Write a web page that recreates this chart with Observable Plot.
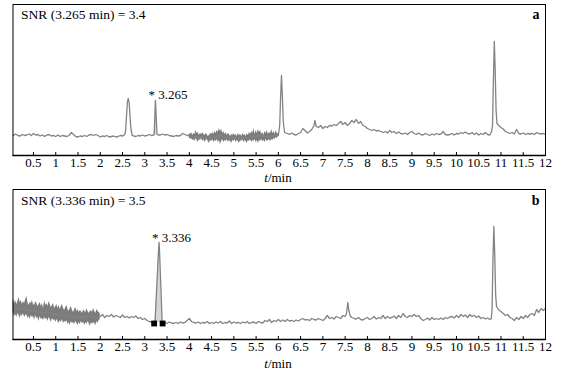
<!DOCTYPE html>
<html><head><meta charset="utf-8">
<script src="https://cdn.jsdelivr.net/npm/d3@7"></script>
<script src="https://cdn.jsdelivr.net/npm/@observablehq/plot@0.6"></script>
<style>body{margin:0;background:#fff} #chart svg{display:block}</style>
</head><body><div id="chart"></div>
<script>
const xTicks = [0.5,1,1.5,2,2.5,3,3.5,4,4.5,5,5.5,6,6.5,7,7.5,8,8.5,9,9.5,10,10.5,11,11.5,12];
const axisTitleItalic = "t";
const axisTitleRest = "/min";

// Panel a: [time (min), signal]
const traceA = [[0,21],[0.05,20],[0.1,21.5],[0.15,20],[0.2,19.5],[0.25,21],[0.3,20],[0.35,20.5],[0.4,21.5],[0.45,20],[0.5,22],[0.55,20.5],[0.6,21],[0.65,19.5],[0.7,20.5],[0.75,19],[0.8,20.5],[0.85,21],[0.9,19.5],[0.95,20],[1,19],[1.05,20.5],[1.1,19],[1.15,20],[1.2,19.5],[1.25,19],[1.3,20],[1.35,23],[1.4,21],[1.45,19],[1.5,18.5],[1.55,19.5],[1.6,19],[1.65,20],[1.7,19],[1.75,20.5],[1.8,21],[1.85,20],[1.9,21],[1.95,20],[2,18.5],[2.05,19.5],[2.1,19],[2.15,20],[2.2,18.5],[2.25,19],[2.3,19.5],[2.35,18.5],[2.4,19],[2.45,20],[2.5,19.5],[2.55,21],
[2.57,25],[2.59,40],[2.61,54],[2.63,57],[2.65,52],[2.67,38],[2.69,26],[2.72,20],[2.75,19.5],[2.8,19],[2.85,20],[2.9,19.5],[2.95,20.5],[3,19.5],[3.05,20],[3.1,21],[3.15,20],[3.2,20.5],
[3.21,21],[3.225,38],[3.24,55],[3.255,40],[3.275,21],[3.3,20.5],[3.35,20.5],[3.4,21.5],[3.45,20.5],[3.5,21],[3.55,20],[3.6,19.5],[3.65,19],[3.7,20],[3.75,19.5],[3.8,20],[3.85,22],[3.9,21],[3.95,20],
[4,20],[4.1,18],[4.2,19],[4.3,18.5],[4.4,17],[4.5,18],[4.6,19],[4.7,20],[4.8,18.5],[4.9,18],[5,18],[5.1,17.5],[5.2,18],[5.3,17.5],[5.4,19],[5.5,19.5],[5.6,20],[5.7,19],[5.8,18.5],[5.9,19.5],[6,20],
[6.03,30],[6.05,58],[6.07,80],[6.09,60],[6.11,34],[6.14,23],[6.2,22],[6.25,21],[6.3,22.5],[6.35,21],[6.4,20.5],[6.45,22],[6.5,23],[6.55,27],[6.6,25],[6.65,22.5],[6.7,24],[6.75,26],[6.8,30],[6.82,35],[6.85,29],[6.9,28],[6.95,30],[7,27],[7.05,29],[7.1,28],[7.15,30],[7.2,29.5],[7.25,31],[7.3,30],[7.35,32],[7.4,34],[7.45,31],[7.5,33],[7.55,30],[7.6,32],[7.65,35],[7.7,33],[7.75,36],[7.8,32],[7.85,34],[7.9,30],[7.95,29],[8,27],[8.05,26],[8.1,25],[8.15,26],[8.2,24.5],[8.25,25],[8.3,24],[8.35,23],[8.4,24],[8.45,22.5],[8.5,25],[8.55,23],[8.6,24],[8.65,22],[8.7,23.5],[8.75,22],[8.8,21.5],[8.85,22.5],[8.9,21],[8.95,23],[9,24],[9.05,22],[9.1,21],[9.15,22.5],[9.2,21],[9.25,20.5],[9.3,22],[9.35,21],[9.4,20],[9.45,21.5],[9.5,20.5],[9.55,22],[9.6,21],[9.65,21.5],[9.7,24],[9.75,21],[9.8,20.5],[9.85,21],[9.9,22],[9.95,20.5],[10,22],[10.05,21.5],[10.1,23],[10.15,22],[10.2,23.5],[10.25,22],[10.3,21.5],[10.35,23],[10.4,21],[10.45,22.5],[10.5,20.5],[10.55,22],[10.6,21],[10.65,23],[10.7,21],[10.75,20.5],[10.79,24],
[10.81,30],[10.83,75],[10.85,114],[10.87,85],[10.89,45],[10.91,32],[10.95,30],[11,28],[11.05,26.5],[11.1,24],[11.15,23],[11.2,22],[11.25,23],[11.3,21.5],[11.35,26],[11.4,22],[11.45,21.5],[11.5,22.5],[11.55,21],[11.6,22],[11.65,21.5],[11.7,22],[11.75,21],[11.8,23],[11.85,22],[11.9,21.5],[11.95,22],[12,21]];

// Panel a dense-noise band: [time, low, high]
const bandA = [[4,18,22],[4.025,16,21],[4.05,17,23],[4.075,15,20],[4.1,16,22],[4.125,14,21],[4.15,17,25],[4.175,15,22],[4.2,13,23],[4.225,16,20],[4.25,15,22],[4.275,17,21],[4.3,14,23],[4.325,16,21],[4.35,13,20],[4.375,15,22],[4.4,16,21],[4.425,14,19],[4.45,12,20],[4.475,15,22],[4.5,14,21],[4.525,16,23],[4.55,13,21],[4.575,15,24],[4.6,14,22],[4.625,16,25],[4.65,13,23],[4.675,15,27],[4.7,11,24],[4.725,14,26],[4.75,16,22],[4.775,13,24],[4.8,15,21],[4.825,14,23],[4.85,16,20],[4.875,13,22],[4.9,15,21],[4.925,14,19],[4.95,12,21],[4.975,15,20],[5,14,22],[5.025,16,20],[5.05,13,21],[5.075,15,19],[5.1,14,22],[5.125,12,20],[5.15,15,21],[5.175,14,19],[5.2,16,22],[5.225,13,20],[5.25,15,21],[5.275,14,19],[5.3,12,22],[5.325,15,20],[5.35,14,23],[5.375,16,21],[5.4,13,24],[5.425,15,22],[5.45,14,27],[5.475,16,21],[5.5,13,25],[5.525,15,22],[5.55,12,26],[5.575,15,23],[5.6,14,25],[5.625,16,21],[5.65,14,23],[5.675,15,20],[5.7,13,24],[5.725,16,22],[5.75,14,25],[5.775,15,21],[5.8,16,23],[5.825,14,22],[5.85,16,26],[5.875,15,22],[5.9,17,24],[5.925,16,21],[5.95,18,25],[5.975,17,22],[6,19,22]];
const peakFillA = [[3.21,21],[3.225,38],[3.24,55],[3.255,40],[3.275,21]];
const peakBaseA = 20.5;
const snrLabelA = "SNR (3.265 min) = 3.4";
const panelLetterA = "a";
const peakLabelA = {t: 3.24, v: 57, text: "* 3.265"};

// Panel b
const traceB = [[0,32],[0.1,31],[0.2,31],[0.3,30],[0.4,29],[0.5,28.5],[0.6,28],[0.7,26],[0.8,27.5],[0.9,26],[1,25],[1.1,24],[1.2,24],[1.3,22.5],[1.4,22.5],[1.5,22.5],[1.6,22.5],[1.7,23],[1.8,22.5],[1.9,21],[2,23],
[2.05,25],[2.1,22],[2.15,24],[2.2,23],[2.25,25],[2.3,22.5],[2.35,24],[2.4,23],[2.45,22],[2.5,24.5],[2.55,22],[2.6,23],[2.65,21.5],[2.7,23],[2.75,22],[2.8,23.5],[2.85,21],[2.9,22],[2.95,20],[3,21],[3.05,19],[3.1,18],[3.15,17.5],[3.2,16.5],
[3.23,17],[3.31,90],[3.32,97],[3.33,90],[3.39,17],
[3.45,17],[3.5,16],[3.55,17.5],[3.6,16.5],[3.65,16],[3.7,17],[3.75,16],[3.8,17.5],[3.85,16.5],[3.9,17],[3.95,19],[4,21],[4.05,18],[4.1,17],[4.15,16.5],[4.2,17.5],[4.25,16],[4.3,17],[4.35,16.5],[4.4,18],[4.45,16],[4.5,17],[4.55,16],[4.6,17.5],[4.65,16.5],[4.7,18],[4.75,16],[4.8,17],[4.85,16.5],[4.9,18.5],[4.95,16],[5,17.5],[5.05,16.5],[5.1,17],[5.15,16],[5.2,17.5],[5.25,16.5],[5.3,18],[5.35,16],[5.4,17],[5.45,17.5],[5.5,16],[5.55,18],[5.6,17],[5.65,16.5],[5.7,19],[5.75,18],[5.8,20],[5.85,17],[5.9,19],[5.95,18],[6,20],[6.05,18],[6.1,19.5],[6.15,18],[6.2,20],[6.25,18.5],[6.3,19],[6.35,18],[6.4,19.5],[6.45,18.5],[6.5,20],[6.55,21],[6.6,19.5],[6.65,20],[6.7,19],[6.75,21],[6.8,20],[6.85,19.5],[6.9,21],[6.95,20],[7,19],[7.05,21],[7.1,24],[7.15,21],[7.2,22],[7.25,20.5],[7.3,23],[7.35,22],[7.4,21],[7.45,24],[7.5,23],[7.53,26],[7.56,37],[7.58,30],[7.61,24],[7.65,22],[7.7,21],[7.75,20.5],[7.8,22],[7.85,20],[7.9,19.5],[7.95,21],[8,22],[8.05,20],[8.1,21],[8.15,23],[8.2,20.5],[8.25,22],[8.3,21],[8.35,24],[8.4,21],[8.45,23],[8.5,21.5],[8.55,22],[8.6,23.5],[8.65,21],[8.7,24],[8.75,22],[8.8,26],[8.85,23],[8.9,22],[8.95,24],[9,23],[9.05,25],[9.1,23],[9.15,24],[9.2,21],[9.25,19],[9.3,20],[9.35,21.5],[9.4,19.5],[9.45,22],[9.5,20],[9.55,21],[9.6,20],[9.65,21.5],[9.7,20],[9.75,22],[9.8,21],[9.85,22.5],[9.9,23],[9.95,21.5],[10,24],[10.05,22],[10.1,25],[10.15,23],[10.2,24.5],[10.25,22],[10.3,25],[10.35,23],[10.4,24],[10.45,22],[10.5,23.5],[10.55,21],[10.6,22],[10.65,20.5],[10.7,21.5],[10.75,20],[10.78,20.5],
[10.8,30],[10.82,80],[10.84,113],[10.86,85],[10.88,45],[10.9,33],[10.93,31],[10.96,29],[11,28],[11.05,26],[11.1,24],[11.15,25],[11.2,22],[11.25,21],[11.3,19],[11.35,22],[11.4,20],[11.45,23],[11.5,21],[11.55,24],[11.6,22],[11.65,25],[11.7,26],[11.75,24],[11.8,30],[11.85,27],[11.9,31],[11.95,29],[12,31]];
const bandB = [[0,26,40],[0.025,24,37],[0.05,27,41],[0.075,23,36],[0.1,25,39],[0.125,22,35],[0.15,26,38],[0.175,24,42],[0.2,21,37],[0.225,25,39],[0.25,23,35],[0.275,26,38],[0.3,22,36],[0.325,24,40],[0.35,25,43],[0.375,21,37],[0.4,23,34],[0.425,20,37],[0.45,24,36],[0.475,22,39],[0.5,23,35],[0.525,19,34],[0.55,24,38],[0.575,21,36],[0.6,22,33],[0.625,18,35],[0.65,23,37],[0.675,20,33],[0.7,21,36],[0.725,19,31],[0.75,22,39],[0.775,20,34],[0.8,21,36],[0.825,18,33],[0.85,22,38],[0.875,20,35],[0.9,17,32],[0.925,21,34],[0.95,19,36],[0.975,20,31],[1,17,33],[1.025,20,35],[1.05,18,31],[1.075,16,34],[1.1,19,30],[1.125,17,33],[1.15,20,35],[1.175,16,31],[1.2,18,29],[1.225,17,32],[1.25,19,34],[1.275,15,30],[1.3,17,28],[1.325,14,31],[1.35,18,33],[1.375,16,29],[1.4,17,27],[1.425,15,30],[1.45,18,32],[1.475,16,28],[1.5,14,30],[1.525,17,27],[1.55,15,29],[1.575,18,28],[1.6,16,26],[1.625,17,30],[1.65,14,28],[1.675,17,27],[1.7,15,31],[1.725,18,28],[1.75,16,26],[1.775,13,28],[1.8,17,29],[1.825,15,27],[1.85,17,31],[1.875,16,28],[1.9,14,26],[1.925,18,30],[1.95,16,28],[1.975,19,27],[2,20,26]];
const peakFillB = [[3.23,17],[3.31,90],[3.32,97],[3.33,90],[3.39,17]];
const peakBaseB = 17;
const markersB = [[3.21,16],[3.40,16]];
const snrLabelB = "SNR (3.336 min) = 3.5";
const panelLetterB = "b";
const peakLabelB = {t: 3.32, v: 98, text: "* 3.336"};

const FONT = "'Liberation Serif','Times New Roman',serif";
const LINE = "#838383";

function panel({trace, band, peakFill, peakBase, markers, snr, letter, peak, height, marginBottom, yMax, snrDy, titleY}) {
  const marks = [
    Plot.areaY(band, {x: d => d[0], y1: d => d[1], y2: d => d[2], fill: "#7c7c7c", curve: "linear", clip: true}),
    Plot.areaY(peakFill, {x: d => d[0], y1: peakBase, y2: d => d[1], fill: "#d6d6d6", clip: true}),
    Plot.line(trace, {x: d => d[0], y: d => d[1], stroke: LINE, strokeWidth: 1.3, clip: true}),
    Plot.ruleX(xTicks, {y1: 0, y2: 3, stroke: "black", strokeWidth: 1}),
    Plot.frame({stroke: "black", strokeWidth: 1}),
    Plot.ruleY([0], {stroke: "black", strokeWidth: 1.6}),
    Plot.axisX({ticks: xTicks, tickSize: 0, tickPadding: 2, tickFormat: d => String(d), fontSize: 13, label: null}),
    Plot.text([snr], {frameAnchor: "top-left", dx: 8, dy: snrDy, text: d => d, textAnchor: "start", lineAnchor: "top", fontSize: 13.5}),
    Plot.text([letter], {frameAnchor: "top-right", dx: -6, dy: snrDy, text: d => d, textAnchor: "end", lineAnchor: "top", fontSize: 14, fontWeight: "bold"}),
    Plot.text([peak], {x: d => d.t, y: d => d.v, text: d => d.text, textAnchor: "start", lineAnchor: "bottom", dx: -7, fontSize: 13})
  ];
  if (markers) marks.push(Plot.dot(markers, {x: d => d[0], y: d => d[1], symbol: "square", r: 3.3, fill: "black"}));
  const svg = Plot.plot({
    width: 569, height, marginTop: 4, marginBottom, marginLeft: 12.5, marginRight: 24,
    style: {fontFamily: FONT, fontSize: "13px", color: "black", background: "white"},
    x: {domain: [0.04, 12], axis: null},
    y: {domain: [0, yMax], axis: null},
    marks
  });
  const sel = d3.select(svg);
  const t = sel.append("text").attr("x", 278).attr("y", titleY).attr("text-anchor", "middle")
    .attr("font-family", FONT).attr("font-size", 13).attr("fill", "black");
  t.append("tspan").attr("font-style", "italic").text(axisTitleItalic);
  t.append("tspan").text(axisTitleRest);
  return svg;
}

const root = document.getElementById("chart");
root.append(panel({trace: traceA, band: bandA, peakFill: peakFillA, peakBase: peakBaseA, snr: snrLabelA, letter: panelLetterA, peak: peakLabelA, height: 185, marginBottom: 30, yMax: 151, snrDy: 4.5, titleY: 182}));
root.append(panel({trace: traceB, band: bandB, peakFill: peakFillB, peakBase: peakBaseB, markers: markersB, snr: snrLabelB, letter: panelLetterB, peak: peakLabelB, height: 186, marginBottom: 32, yMax: 150, snrDy: 6, titleY: 183}));
</script></body></html>
